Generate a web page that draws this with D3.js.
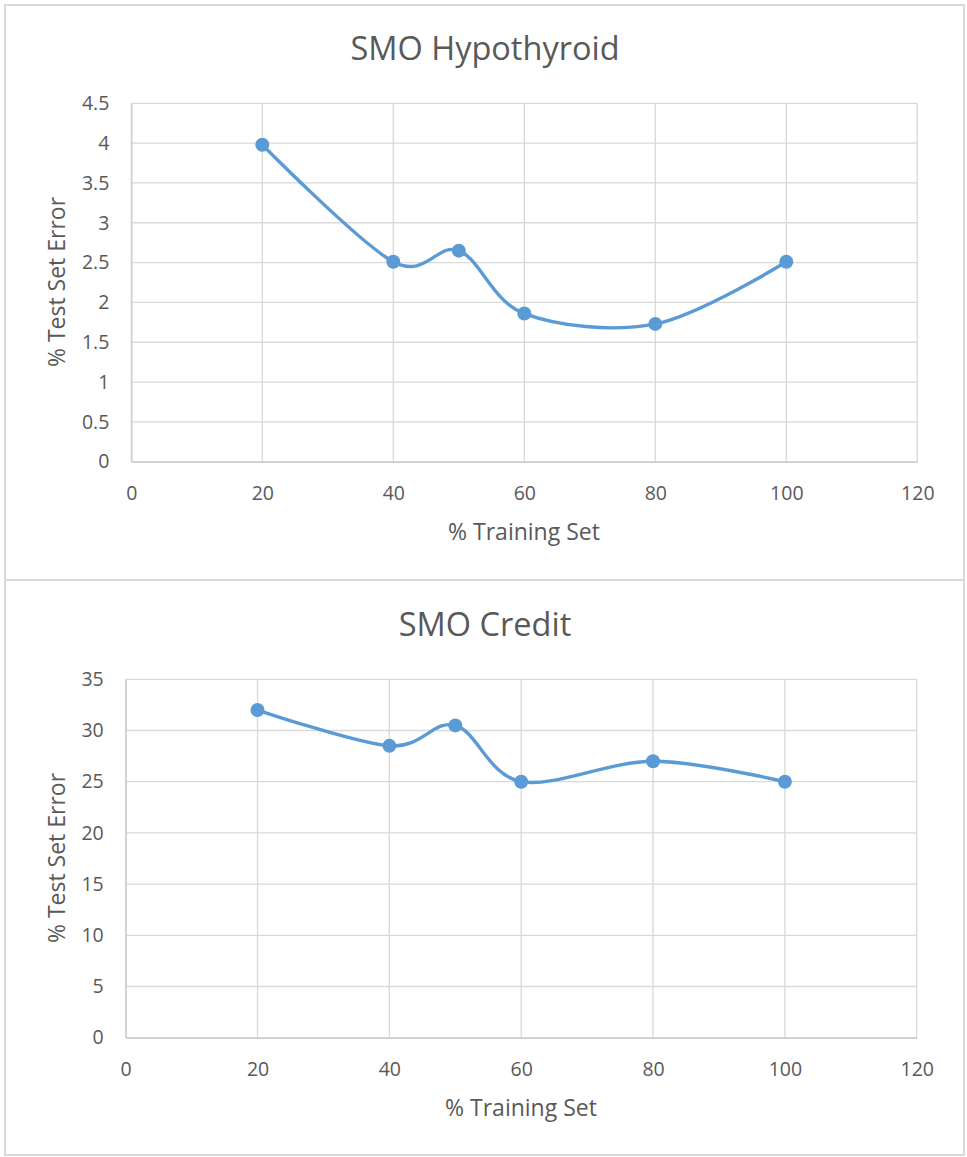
<!DOCTYPE html>
<html>
<head>
<meta charset="utf-8">
<script src="https://cdn.jsdelivr.net/npm/d3@7"></script>
<style>
  html, body { margin: 0; padding: 0; background: #fff; }
  svg { display: block; }
  text { font-family: "Open Sans", "Noto Sans", sans-serif; fill: #595959; }
</style>
</head>
<body>
<svg id="chart" width="967" height="1157"></svg>
<script>
// Training-set percentages shared by both experiments
const trainingPct = [20, 40, 50, 60, 80, 100];

// SMO test-set error (%) on the Hypothyroid dataset
const hypothyroidError = [3.98, 2.51, 2.65, 1.86, 1.73, 2.51];

// SMO test-set error (%) on the Credit dataset
const creditError = [32.0, 28.5, 30.5, 25.0, 27.0, 25.0];

// Axis tick values
const xTicks = [0, 20, 40, 60, 80, 100, 120];
const hypoTicks = [0, 0.5, 1, 1.5, 2, 2.5, 3, 3.5, 4, 4.5];
const creditTicks = [0, 5, 10, 15, 20, 25, 30, 35];

const titles = ["SMO Hypothyroid", "SMO Credit"];
const xLabel = "% Training Set";
const yLabel = "% Test Set Error";

const svg = d3.select("#chart");
const lineColor = "#5b9bd5";
const gridColor = "#d9d9d9";
const tickFont = 19.5;

function drawPanel(cfg) {
  const g = svg.append("g");

  // panel frame
  g.append("rect")
    .attr("x", cfg.box.x).attr("y", cfg.box.y)
    .attr("width", cfg.box.w).attr("height", cfg.box.h)
    .attr("fill", "#fff").attr("stroke", gridColor).attr("stroke-width", 2);

  const x = d3.scaleLinear().domain([0, 120]).range([cfg.plot.left, cfg.plot.right]);
  const y = d3.scaleLinear().domain([0, cfg.yMax]).range([cfg.plot.bottom, cfg.plot.top]);

  // horizontal gridlines
  g.append("g").selectAll("line").data(cfg.yTicks).join("line")
    .attr("x1", cfg.plot.left).attr("x2", cfg.plot.right)
    .attr("y1", d => y(d)).attr("y2", d => y(d))
    .attr("stroke", gridColor).attr("stroke-width", 1.3);

  // vertical gridlines
  g.append("g").selectAll("line").data(xTicks).join("line")
    .attr("x1", d => x(d)).attr("x2", d => x(d))
    .attr("y1", cfg.plot.top).attr("y2", cfg.plot.bottom)
    .attr("stroke", gridColor).attr("stroke-width", 1.3);

  // axes (lines + labels only)
  const xAxis = d3.axisBottom(x).tickValues(xTicks).tickSize(0).tickPadding(24)
    .tickFormat(d3.format("d"));
  g.append("g").attr("transform", `translate(0,${cfg.plot.bottom})`).call(xAxis)
    .call(a => a.select(".domain").attr("stroke", "#cfcfcf").attr("stroke-width", 1.5))
    .call(a => a.selectAll("text").attr("font-size", tickFont).attr("fill", "#595959")
      .style("font-family", "'Open Sans', sans-serif"));

  const yAxis = d3.axisLeft(y).tickValues(cfg.yTicks).tickSize(0).tickPadding(cfg.yPad)
    .tickFormat(d => String(d));
  g.append("g").attr("transform", `translate(${cfg.plot.left},0)`).call(yAxis)
    .call(a => a.select(".domain").attr("stroke", "#cfcfcf").attr("stroke-width", 1.5))
    .call(a => a.selectAll("text").attr("font-size", tickFont).attr("fill", "#595959")
      .style("font-family", "'Open Sans', sans-serif"));

  // title
  g.append("text")
    .attr("x", cfg.titleX).attr("y", cfg.titleY)
    .attr("text-anchor", "middle").attr("font-size", 32.5)
    .text(cfg.title);

  // axis titles
  g.append("text")
    .attr("x", cfg.xLabelX).attr("y", cfg.xLabelY)
    .attr("text-anchor", "middle").attr("font-size", 23)
    .text(xLabel);

  g.append("text")
    .attr("transform", `translate(${cfg.yLabelX},${cfg.yLabelY}) rotate(-90)`)
    .attr("text-anchor", "middle").attr("font-size", 23)
    .text(yLabel);

  // smoothed series line
  const pts = trainingPct.map((p, i) => [p, cfg.values[i]]);
  const line = d3.line()
    .x(d => x(d[0])).y(d => y(d[1]))
    .curve(d3.curveCardinal.tension(0));
  g.append("path").datum(pts)
    .attr("d", line).attr("fill", "none")
    .attr("stroke", lineColor).attr("stroke-width", 3.4)
    .attr("stroke-linejoin", "round").attr("stroke-linecap", "round");

  // markers
  g.append("g").selectAll("circle").data(pts).join("circle")
    .attr("cx", d => x(d[0])).attr("cy", d => y(d[1]))
    .attr("r", 7).attr("fill", lineColor);
}

drawPanel({
  box: { x: 5, y: 5, w: 959, h: 575 },
  plot: { left: 131.3, right: 917.3, top: 103.3, bottom: 461.7 },
  yMax: 4.5, yTicks: hypoTicks, yPad: 22,
  values: hypothyroidError, title: titles[0],
  titleX: 485, titleY: 60,
  xLabelX: 524, xLabelY: 540,
  yLabelX: 65, yLabelY: 282
});

drawPanel({
  box: { x: 5, y: 580, w: 959, h: 575 },
  plot: { left: 125.7, right: 916.7, top: 679.3, bottom: 1037.7 },
  yMax: 35, yTicks: creditTicks, yPad: 22,
  values: creditError, title: titles[1],
  titleX: 485, titleY: 636,
  xLabelX: 521, xLabelY: 1116,
  yLabelX: 65, yLabelY: 858
});
</script>
</body>
</html>
